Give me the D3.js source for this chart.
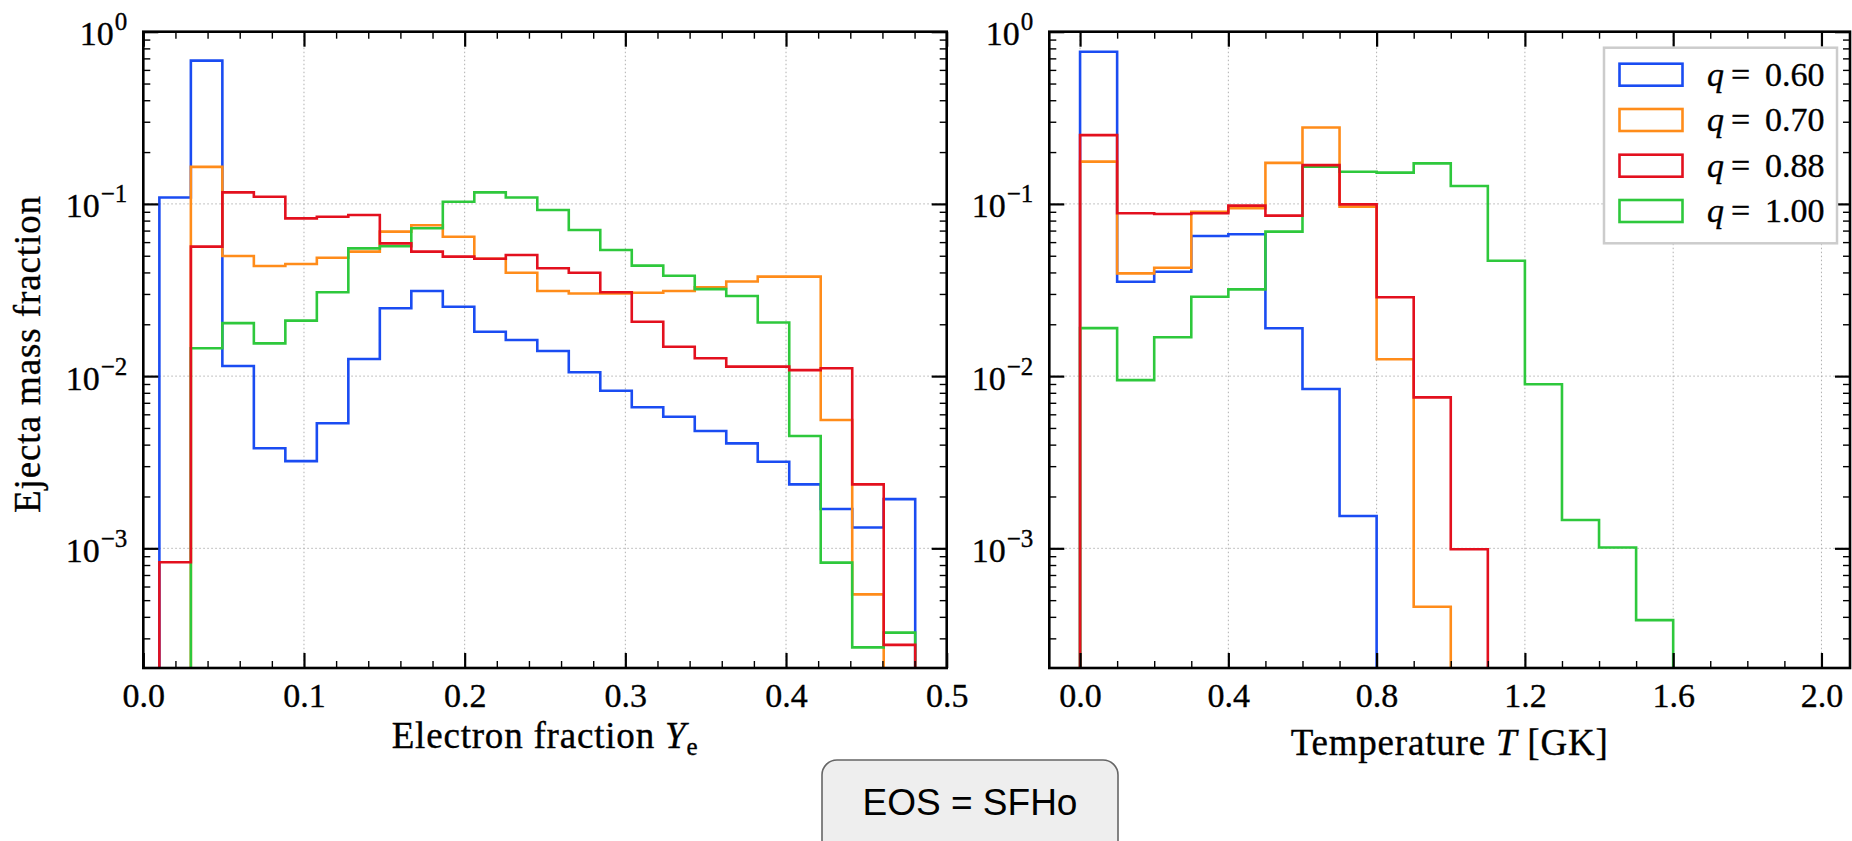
<!DOCTYPE html>
<html>
<head>
<meta charset="utf-8">
<script src="https://cdn.jsdelivr.net/npm/d3@7"></script>
<style>
  body { margin: 0; background: #fff; }
  text { font-family: "Liberation Serif", serif; fill: #000; }
  .serif { stroke: #000; stroke-width: 0.35px; }
</style>
</head>
<body>
<div id="chart"></div>
<script>
// figure size
var W = 1852, H = 841;

// mass ratios / legend labels
var qLabels = ["0.60", "0.70", "0.88", "1.00"];
var colors = ["#1a4cf2", "#ff8c1a", "#e3101e", "#2ec83c"];

// bin edges
var yeEdges = [0.0100, 0.0296, 0.0492, 0.0688, 0.0884, 0.1080, 0.1276, 0.1472, 0.1668, 0.1864,
               0.2060, 0.2256, 0.2452, 0.2648, 0.2844, 0.3040, 0.3236, 0.3432, 0.3628, 0.3824,
               0.4020, 0.4216, 0.4412, 0.4608, 0.4804];
var tEdges = [0.0, 0.1, 0.2, 0.3, 0.4, 0.5, 0.6, 0.7, 0.8, 0.9, 1.0, 1.1, 1.2, 1.3, 1.4, 1.5, 1.6];

// electron fraction histograms
var ye_q060 = [0.109, 0.679, 0.01145, 0.00381, 0.00321, 0.00532, 0.01257, 0.0248, 0.0312, 0.0253,
               0.0181, 0.0162, 0.0140, 0.01052, 0.00823, 0.00659, 0.00581, 0.0048, 0.00407, 0.00318,
               0.00235, 0.00169, 0.00132, 0.00193];
var ye_q070 = [0, 0.164, 0.0498, 0.0436, 0.0448, 0.0487, 0.0528, 0.069, 0.0751, 0.0645,
               0.048, 0.0398, 0.0312, 0.0302, 0.0302, 0.0305, 0.0312, 0.0328, 0.0354, 0.0378,
               0.0378, 0.00556, 0.00054, 0];
var ye_q088 = [0.00083, 0.0565, 0.1167, 0.110, 0.0824, 0.0843, 0.0862, 0.059, 0.0528, 0.0494,
               0.048, 0.0505, 0.0423, 0.0398, 0.0307, 0.0207, 0.0148, 0.0127, 0.01135, 0.01135,
               0.01084, 0.0111, 0.00235, 0.000275];
var ye_q100 = [0, 0.0145, 0.0203, 0.0155, 0.021, 0.0307, 0.0552, 0.0569, 0.0722, 0.103,
               0.1167, 0.109, 0.0922, 0.0705, 0.054, 0.0438, 0.0383, 0.032, 0.0292, 0.0205,
               0.00449, 0.000826, 0.000266, 0.000324];

// temperature histograms
var t_q060 = [0.765, 0.0353, 0.0404, 0.0651, 0.0666, 0.01895, 0.00841, 0.00154, 0, 0, 0, 0, 0, 0, 0, 0];
var t_q070 = [0.176, 0.0395, 0.0426, 0.0901, 0.0943, 0.173, 0.278, 0.0964, 0.01252, 0.000458, 0, 0, 0, 0, 0, 0];
var t_q088 = [0.251, 0.0882, 0.0873, 0.0882, 0.0977, 0.0855, 0.168, 0.0994, 0.0287, 0.00753, 0.000987, 0, 0, 0, 0, 0];
var t_q100 = [0.0190, 0.00948, 0.0168, 0.0289, 0.0319, 0.069, 0.1644, 0.1538, 0.152, 0.172,
              0.127, 0.0468, 0.00896, 0.00146, 0.00101, 0.000383];

// ticks
var yeTicks = [0.0, 0.1, 0.2, 0.3, 0.4, 0.5];
var tTicks = [0.0, 0.4, 0.8, 1.2, 1.6, 2.0];
var yTicks = [1e-3, 1e-2, 1e-1, 1];
var eosLabel = "EOS = SFHo";

var yMin = Math.pow(10, -3.695);
var SERIF = "'Liberation Serif', serif";
var TICK_FS = 34;

var svg = d3.select("#chart").append("svg")
    .attr("width", W)
    .attr("height", H);

function minorTicks(step, domain, majors) {
  var out = [];
  for (var v = Math.ceil(domain[0] / step) * step; v <= domain[1] + 1e-9; v += step) {
    var r = Math.round(v * 1000) / 1000;
    if (!majors.some(function(m) { return Math.abs(m - r) < 1e-6; })) out.push(r);
  }
  return out;
}

function logMinors() {
  var out = [];
  for (var e = -4; e < 0; e++)
    for (var m = 2; m <= 9; m++) {
      var v = m * Math.pow(10, e);
      if (v > yMin) out.push(v);
    }
  return out;
}

function drawPanel(cfg, id) {
  var w = cfg.right - cfg.left, h = cfg.bottom - cfg.top;
  var g = svg.append("g").attr("transform", "translate(" + cfg.left + "," + cfg.top + ")");

  var x = d3.scaleLinear().domain(cfg.xDomain).range([0, w]);
  var y = d3.scaleLog().domain([yMin, 1]).range([h, 0]);

  g.append("clipPath").attr("id", "clip" + id)
    .append("rect").attr("width", w).attr("height", h);

  // grid
  var grid = g.append("g").attr("class", "grid")
      .attr("stroke", "#b0b0b0").attr("stroke-width", 1).attr("stroke-dasharray", "1.5,2.5");
  grid.selectAll(".gx").data(cfg.ticks).enter().append("line")
      .attr("x1", function(d) { return x(d); }).attr("x2", function(d) { return x(d); })
      .attr("y1", 0).attr("y2", h);
  grid.selectAll(".gy").data(yTicks).enter().append("line")
      .attr("y1", function(d) { return y(d); }).attr("y2", function(d) { return y(d); })
      .attr("x1", 0).attr("x2", w);

  // histograms (step)
  var line = d3.line()
      .x(function(d) { return x(d[0]); })
      .y(function(d) { return d[1] > 0 ? y(d[1]) : h + 10; });

  var order = [0, 1, 3, 2];
  var lines = g.append("g").attr("clip-path", "url(#clip" + id + ")");
  order.forEach(function(k) {
    var vals = cfg.series[k], e = cfg.edges;
    var pts = [[e[0], 0]];
    vals.forEach(function(v, i) { pts.push([e[i], v]); pts.push([e[i + 1], v]); });
    pts.push([e[vals.length], 0]);
    lines.append("path")
      .attr("d", line(pts))
      .attr("fill", "none")
      .attr("stroke", colors[k])
      .attr("stroke-width", 2.6)
      .attr("stroke-linejoin", "miter");
  });

  // axes with inward ticks
  function styleAxis(sel, width) {
    sel.select(".domain").remove();
    sel.selectAll(".tick line").attr("stroke", "#000").attr("stroke-width", width);
  }
  var xMinor = minorTicks(cfg.minorStep, cfg.xDomain, cfg.ticks);
  var yMinor = logMinors();

  var xb = g.append("g").attr("transform", "translate(0," + h + ")")
      .call(d3.axisBottom(x).tickValues(cfg.ticks).tickSize(-15).tickPadding(15)
        .tickFormat(d3.format(".1f")));
  styleAxis(xb, 2.2);
  xb.selectAll("text").attr("class", "serif")
      .style("font-size", TICK_FS + "px").style("font-family", SERIF);
  styleAxis(g.append("g").attr("transform", "translate(0," + h + ")")
      .call(d3.axisBottom(x).tickValues(xMinor).tickSize(-7).tickFormat("")), 1.4);
  styleAxis(g.append("g")
      .call(d3.axisTop(x).tickValues(cfg.ticks).tickSize(-15).tickFormat("")), 2.2);
  styleAxis(g.append("g")
      .call(d3.axisTop(x).tickValues(xMinor).tickSize(-7).tickFormat("")), 1.4);

  var yl = g.append("g")
      .call(d3.axisLeft(y).tickValues(yTicks).tickSize(-15).tickPadding(16).tickFormat(""));
  styleAxis(yl, 2.2);
  yl.selectAll(".tick").append("text")
      .attr("class", "serif")
      .attr("x", -16).attr("dy", "0.38em")
      .attr("text-anchor", "end")
      .style("font-size", TICK_FS + "px").style("font-family", SERIF)
      .each(function(d) {
        var ex = Math.round(Math.log10(d));
        var t = d3.select(this);
        t.text("10");
        t.append("tspan").attr("dx", 1).attr("dy", -15).style("font-size", "25px")
          .text(ex === 0 ? "0" : "\u2212" + (-ex));
      });
  styleAxis(g.append("g")
      .call(d3.axisLeft(y).tickValues(yMinor).tickSize(-7).tickFormat("")), 1.4);
  styleAxis(g.append("g").attr("transform", "translate(" + w + ",0)")
      .call(d3.axisRight(y).tickValues(yTicks).tickSize(-15).tickFormat("")), 2.2);
  styleAxis(g.append("g").attr("transform", "translate(" + w + ",0)")
      .call(d3.axisRight(y).tickValues(yMinor).tickSize(-7).tickFormat("")), 1.4);

  // frame
  g.append("rect").attr("width", w).attr("height", h)
      .attr("fill", "none").attr("stroke", "#000").attr("stroke-width", 2.6);

  // x label
  var lab = g.append("text")
      .attr("class", "serif")
      .attr("x", w / 2).attr("y", cfg.labelY - cfg.top)
      .attr("text-anchor", "middle")
      .style("font-size", "37px").style("font-family", SERIF).attr("letter-spacing", 0.8);
  cfg.label(lab);

  return {g: g, x: x, y: y, w: w, h: h};
}

var left = drawPanel({
  left: 143.3, right: 946.7, top: 31.7, bottom: 668,
  xDomain: [0, 0.5], ticks: yeTicks, minorStep: 0.02, edges: yeEdges,
  series: [ye_q060, ye_q070, ye_q088, ye_q100], labelY: 748,
  label: function(t) {
    t.append("tspan").text("Electron fraction ");
    t.append("tspan").attr("font-style", "italic").text("Y");
    t.append("tspan").style("font-size", "25px").attr("dy", 7).text("e");
  }
}, 0);

var right = drawPanel({
  left: 1049.3, right: 1850, top: 31.7, bottom: 668,
  xDomain: [-0.083, 2.077], ticks: tTicks, minorStep: 0.1, edges: tEdges,
  series: [t_q060, t_q070, t_q088, t_q100], labelY: 755,
  label: function(t) {
    t.append("tspan").text("Temperature ");
    t.append("tspan").attr("font-style", "italic").text("T");
    t.append("tspan").text(" [GK]");
  }
}, 1);

// y label
svg.append("text")
    .attr("class", "serif")
    .attr("transform", "translate(40,354) rotate(-90)")
    .attr("text-anchor", "middle")
    .style("font-size", "37px").style("font-family", SERIF).attr("letter-spacing", 0.9)
    .text("Ejecta mass fraction");

// legend
var leg = svg.append("g").attr("transform", "translate(1604,47.7)");
leg.append("rect").attr("width", 233).attr("height", 195.6)
    .attr("fill", "#fff").attr("stroke", "#cccccc").attr("stroke-width", 2.5);
var rowY = [27, 72.3, 118, 163.3];
qLabels.forEach(function(q, i) {
  var r = leg.append("g").attr("transform", "translate(0," + rowY[i] + ")");
  r.append("rect").attr("x", 15.5).attr("y", -11).attr("width", 63).attr("height", 22)
    .attr("fill", "none").attr("stroke", colors[i]).attr("stroke-width", 2.6);
  r.append("text").attr("class", "serif").attr("x", 103).attr("y", 11).style("font-size", "34px")
    .attr("font-style", "italic").text("q");
  r.append("text").attr("class", "serif").attr("x", 127).attr("y", 11).style("font-size", "34px").text("=");
  r.append("text").attr("class", "serif").attr("x", 161).attr("y", 11).style("font-size", "34px").text(q);
});

// EOS box
svg.append("rect")
    .attr("x", 822).attr("y", 760).attr("width", 296).attr("height", 110)
    .attr("rx", 15).attr("ry", 15)
    .attr("fill", "#eeeeee").attr("stroke", "#666").attr("stroke-width", 1.6);
svg.append("text")
    .attr("x", 970).attr("y", 815)
    .attr("text-anchor", "middle")
    .style("font-family", "'Liberation Sans', Arial, sans-serif")
    .style("font-size", "37px")
    .text(eosLabel);
</script>
</body>
</html>
